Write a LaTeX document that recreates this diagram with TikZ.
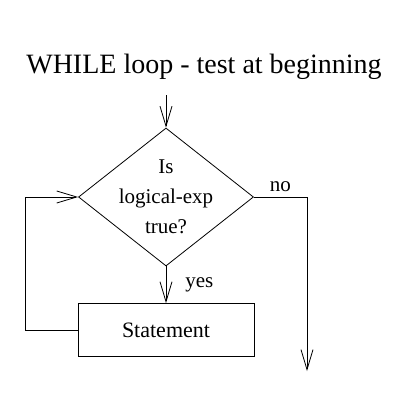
\documentclass[tikz,border=0pt]{standalone}
\usepackage{fontspec}
\setmainfont{Liberation Serif}
\usetikzlibrary{positioning,shapes.geometric,arrows.meta}

\tikzset{
  flow/.style={line width=0.8pt},
  barb/.style={-{Straight Barb[length=20pt,width=12pt,line width=0.8pt]}},
  decision/.style={diamond,draw,line width=0.8pt,inner sep=0pt,
    minimum width=175pt,minimum height=138pt},
  process/.style={rectangle,draw,line width=0.8pt,
    minimum width=176pt,minimum height=53pt,font=\fontsize{22}{26}\selectfont},
  txt/.style={font=\fontsize{21}{30}\selectfont,inner sep=0pt},
}

\begin{document}
\begin{tikzpicture}[x=1pt,y=-1pt]
\useasboundingbox (0,0) rectangle (400,400);
\node[font=\fontsize{28}{32}\selectfont] (title) at (204,67) {WHILE loop - test at beginning};
\coordinate (start) at (166,95);
\node[decision] (test) at (166,197) {};
\node[txt,align=center] (question) at (test) {Is\\logical-exp\\true?};
\node[process] (stmt) at (166,330) {Statement};
\coordinate (loopdown) at (25,330);
\coordinate (loopup) at (25,197);
\coordinate (nocorner) at (307,197);
\coordinate (exit) at (307,371);
% entry
\draw[flow,barb] (start)--(test.north);
% yes branch
\draw[flow,barb] (test.south)--node[txt,right=19pt] (yes) {yes} (stmt.north);
% back to the test
\draw[flow,barb] (stmt.west)--(loopdown)--(loopup)--(test.west);
% no branch
\draw[flow,barb] (test.east)--node[txt,above=5pt] (no) {no} (nocorner)--(exit);
\end{tikzpicture}
\end{document}
